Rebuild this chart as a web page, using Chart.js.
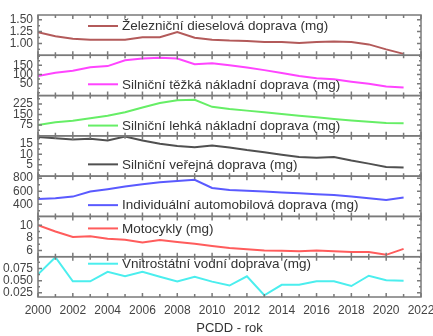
<!DOCTYPE html>
<html><head><meta charset="utf-8">
<script src="https://cdn.jsdelivr.net/npm/chart.js@4.4.0/dist/chart.umd.min.js"></script>
<style>html,body{margin:0;padding:0;background:#fff;overflow:hidden}</style>
</head><body>
<canvas id="c" width="433" height="336"></canvas>
<script>
// ---------- DATA ----------
const years = [2000,2001,2002,2003,2004,2005,2006,2007,2008,2009,2010,2011,2012,2013,2014,2015,2016,2017,2018,2019,2020,2021];
const seriesNames = [
  'Železniční dieselová doprava (mg)',
  'Silniční těžká nákladní doprava (mg)',
  'Silniční lehká nákladní doprava (mg)',
  'Silniční veřejná doprava (mg)',
  'Individuální automobilová doprava (mg)',
  'Motocykly (mg)',
  'Vnitrostátní vodní doprava (mg)'
];
const railDiesel   = [1.235,1.15,1.10,1.08,1.08,1.08,1.13,1.13,1.24,1.12,1.08,1.06,1.05,1.03,1.03,1.01,1.03,1.04,1.03,0.98,0.875,0.78];
const roadHeavy    = [92,110,120,140,146,178,187,192,187,156,162,151,138,124,108,92,80,74,61,49,34,29];
const roadLight    = [75,94,106,123,141,166,201,232,253,256,205,189,178,166,153,141,130,118,108,99,89,87];
const roadPublic   = [18.3,17.7,17.0,17.4,16.6,18.5,16.6,15.0,13.9,13.4,14.2,13.2,12.0,11.0,9.8,8.7,8.3,8.7,7.0,5.5,3.9,3.6];
const passengerCar = [482,492,518,595,631,672,708,738,758,774,650,620,608,595,582,569,556,543,518,492,466,503];
const motorcycles  = [10.0,9.0,8.15,8.25,7.85,7.7,7.25,7.65,7.35,7.05,6.7,6.4,6.2,6.0,5.95,5.85,6.0,5.85,5.75,5.75,5.3,6.25];
const inlandWater  = [0.063,0.098,0.0485,0.0485,0.068,0.059,0.068,0.058,0.0485,0.058,0.048,0.040,0.059,0.020,0.0415,0.0415,0.0485,0.0485,0.039,0.060,0.051,0.050];

const xTickValues = [2000,2002,2004,2006,2008,2010,2012,2014,2016,2018,2020,2022];
const yTickValues = [
  [1.00,1.25,1.50],
  [50,100,150],
  [75,150,225],
  [5,10,15],
  [400,600,800],
  [6,8,10],
  [0.025,0.050,0.075]
];
const yTickDecimals = [2,0,0,0,0,0,3];
const yRanges = [[0.75,1.60],[-15,205],[-3,286],[-0.5,18.8],[215,831],[5.0,11.4],[0.0165,0.099]];
const yMinorSteps = [0.125,25,37.5,2.5,100,1,0.0125];
const xAxisTitle = 'PCDD - rok';

// ---------- STYLE ----------
const seriesData = [railDiesel, roadHeavy, roadLight, roadPublic, passengerCar, motorcycles, inlandWater];
const colors = ['#b35a5a','#ff44ff','#66ee66','#505050','#5a5aff','#ff5c5c','#4beeee'];
const legendOffsets = [11, 29, 30, 28.5, 29, 12, 7];
const FONT = "'Liberation Sans', Arial, sans-serif";
const yIds = seriesData.map((_, i) => 'y' + (i + 1));

const datasets = seriesData.map((arr, i) => ({
  label: seriesNames[i],
  data: arr.map((v, j) => ({x: years[j], y: v})),
  yAxisID: yIds[i],
  borderColor: colors[i],
  backgroundColor: colors[i],
  borderWidth: 2,
  pointRadius: 0,
  tension: 0,
  fill: false
}));

const scales = {
  x: {
    type: 'linear', position: 'bottom', min: 2000, max: 2022,
    grid: {display: false, drawTicks: false},
    border: {display: false},
    ticks: {font: {family: FONT, size: 12}, color: '#444', padding: 6, callback: v => String(v)},
    afterBuildTicks: s => { s.ticks = xTickValues.map(v => ({value: v})); },
    title: {display: true, text: xAxisTitle, font: {family: FONT, size: 13}, color: '#333', padding: {top: 0, bottom: 0}},
    afterFit: s => { s.height = 39; s.paddingLeft = 0; s.paddingRight = 0; }
  }
};
// stacked axes are laid out bottom-up, so define them from the last panel to the first
for (let i = yIds.length - 1; i >= 0; i--) {
  scales[yIds[i]] = {
    type: 'linear', position: 'left', stack: 'panels', stackWeight: 1,
    min: yRanges[i][0], max: yRanges[i][1], offset: false,
    grid: {display: false, drawTicks: false},
    border: {display: false},
    ticks: {font: {family: FONT, size: 12}, color: '#444', padding: 5, autoSkip: false,
            callback: v => Number(v).toFixed(yTickDecimals[i])},
    afterBuildTicks: s => { s.ticks = yTickValues[i].map(v => ({value: v})); },
    afterFit: s => { s.width = 38; s.paddingTop = 0; s.paddingBottom = 0; }
  };
}

const panelPlugin = {
  id: 'panels',
  afterDatasetsDraw(chart) {
    const {ctx, chartArea: ca} = chart;
    const xs = chart.scales.x;
    ctx.save();
    ctx.strokeStyle = '#7a7a7a';
    ctx.lineWidth = 1.5;
    yIds.forEach((id, i) => {
      const s = chart.scales[id];
      ctx.strokeRect(ca.left, s.top, ca.right - ca.left, s.bottom - s.top);
      ctx.beginPath();
      const step = yMinorSteps[i];
      for (let k = Math.ceil(s.min / step); k * step <= s.max; k++) {
        const v = k * step;
        const y = s.getPixelForValue(v);
        const major = yTickValues[i].some(t => Math.abs(t - v) < step / 10);
        const len = major ? 4 : 2;
        ctx.moveTo(ca.left, y); ctx.lineTo(ca.left + len, y);
        ctx.moveTo(ca.right, y); ctx.lineTo(ca.right - len, y);
      }
      for (let yr = xs.min; yr <= xs.max; yr++) {
        const x = xs.getPixelForValue(yr);
        const len = yr % 2 === 0 ? 4 : 3;
        ctx.moveTo(x, s.top); ctx.lineTo(x, s.top + len);
        ctx.moveTo(x, s.bottom); ctx.lineTo(x, s.bottom - len);
      }
      ctx.stroke();
    });
    // per-panel legends
    ctx.font = '13.5px ' + FONT;
    ctx.textBaseline = 'middle';
    ctx.textAlign = 'left';
    yIds.forEach((id, i) => {
      const s = chart.scales[id];
      const y = s.top + legendOffsets[i];
      ctx.strokeStyle = colors[i];
      ctx.lineWidth = 2;
      ctx.beginPath();
      ctx.moveTo(88, y); ctx.lineTo(118, y);
      ctx.stroke();
      ctx.fillStyle = '#333';
      ctx.fillText(seriesNames[i], 122, y + 0.5);
    });
    ctx.restore();
  }
};

new Chart(document.getElementById('c'), {
  type: 'line',
  data: {datasets},
  options: {
    responsive: false, animation: false, devicePixelRatio: 1,
    layout: {padding: {left: 0, right: 12, top: 15, bottom: 0}},
    plugins: {legend: {display: false}, tooltip: {enabled: false}},
    scales
  },
  plugins: [panelPlugin]
});
</script>
</body></html>
